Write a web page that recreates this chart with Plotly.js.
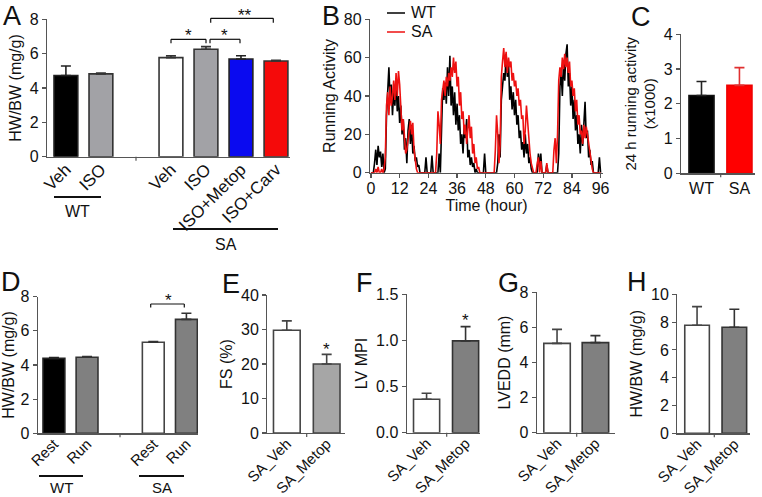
<!DOCTYPE html>
<html><head><meta charset="utf-8">
<script src="https://cdn.plot.ly/plotly-3.0.1.min.js"></script>
<style>html,body{margin:0;padding:0;background:#fff}#chart{width:762px;height:497px}</style>
</head><body><div id="chart"></div>
<script>
// ---------- DATA ----------
// Panel A
const aLabels = ['Veh','ISO','Veh','ISO','ISO+Metop','ISO+Carv'];
const aMeans  = [4.73, 4.82, 5.77, 6.26, 5.69, 5.57];
const aSEM    = [0.55, 0.05, 0.11, 0.15, 0.19, 0.05];
// Panel B (running activity, 0.5 h bins from 0 to 96 h)
const bWT = [
 0,0,0,5,12,4,14,8,11,3,10,0,2,30,44,55,38,46,30,42,35,48,32,40,
 26,35,20,28,12,18,5,22,28,15,25,10,14,6,8,3,4,0,0,0,0,0,8,0,
 0,0,0,9,0,0,0,0,0,10,0,22,44,38,47,36,55,40,61,35,45,30,42,25,
 36,22,30,15,20,10,25,18,28,8,12,4,8,3,5,0,2,0,0,0,0,0,0,10,
 0,0,0,0,0,0,0,0,0,0,5,20,8,38,45,52,48,62,50,58,38,45,33,42,
 30,38,25,30,18,22,12,16,8,20,10,15,5,8,2,0,0,0,0,0,10,3,10,0,
 0,0,0,4,0,0,0,0,0,0,0,0,0,10,45,52,40,58,48,62,67,45,52,35,
 45,28,38,22,30,15,20,10,25,14,30,37,18,22,8,12,4,6,0,0,0,0,0,8,
 0];
const bSA = [
 0,0,0,0,2,0,3,0,0,2,0,2,8,35,42,30,45,35,40,48,38,52,40,53,
 46,30,22,28,15,10,12,18,22,27,20,26,12,5,2,0,0,0,0,0,0,0,0,0,
 0,0,0,0,0,0,0,10,32,25,15,38,44,48,40,50,45,52,48,55,50,60,52,58,
 45,50,35,42,28,32,20,25,15,22,30,18,24,10,15,5,8,2,3,0,0,0,0,0,
 0,0,0,0,0,0,0,0,12,30,20,5,15,50,58,65,55,63,52,60,55,58,48,52,
 45,48,40,44,35,38,28,30,15,22,35,25,18,10,5,2,0,0,0,5,8,0,6,0,
 0,0,0,5,0,0,0,0,0,12,18,5,20,48,55,50,60,54,62,55,60,52,58,45,
 48,40,44,32,38,25,30,20,22,15,25,18,24,20,15,10,5,2,0,0,0,0,0,0,
 0];
const bTicks = [0,12,24,36,48,60,72,84,96];
// Panel C
const cLabels = ['WT','SA'];
const cMeans  = [2.24, 2.53];
const cSEM    = [0.40, 0.51];
// Panel D
const dLabels = ['Rest','Run','Rest','Run'];
const dMeans  = [4.39, 4.45, 5.33, 6.67];
const dSEM    = [0.04, 0.05, 0.05, 0.36];
// Panels E-H
const ehLabels = ['SA_Veh','SA_Metop'];
const eMeans = [29.8, 20.0];  const eSEM = [2.7, 2.8];
const fMeans = [0.362, 0.995]; const fSEM = [0.065, 0.155];
const gMeans = [5.09, 5.13];  const gSEM = [0.80, 0.40];
const hMeans = [7.77, 7.63];  const hSEM = [1.34, 1.29];

// ---------- LAYOUT HELPERS ----------
const W = 762, H = 497;
const FONT = 'Liberation Sans, Arial, Helvetica, sans-serif';
const px = x => x / W, py = y => 1 - y / H;
const AX = '#555';
const TICKF = {family: FONT, size: 16, color: '#111'};
const TITLEF = {family: FONT, size: 16, color: '#111'};

const traces = [];
function bars(xa, ya, slots, means, sem, fills, lines, errCols, width) {
  means.forEach((m, i) => {
    traces.push({
      type: 'bar', x: [slots[i]], y: [m], width: width, xaxis: xa, yaxis: ya,
      marker: {color: fills[i], line: {color: lines[i], width: 1.6}},
      error_y: {type: 'data', array: [sem[i]], arrayminus: [0], symmetric: false,
                color: errCols[i], thickness: 1.6, width: 5},
      showlegend: false, hoverinfo: 'skip'
    });
  });
}

function yAxis(dom, range, dtick, title, anchor, fmt) {
  return {domain: [py(dom[0]), py(dom[1])], range: range, dtick: dtick, anchor: anchor,
    showline: true, linecolor: AX, linewidth: 1.2, ticks: 'outside', ticklen: 4, tickcolor: AX,
    tickwidth: 1.2, showgrid: false, zeroline: false, tickfont: TICKF, tickformat: fmt || '',
    title: {text: title, font: TITLEF, standoff: 4}, fixedrange: true};
}
function xAxis(dom, range, vals, text, anchor, fsize) {
  return {domain: [px(dom[0]), px(dom[1])], range: range, anchor: anchor,
    showline: true, linecolor: AX, linewidth: 1.2, ticks: '', showgrid: false, zeroline: false,
    tickvals: vals, ticktext: text, tickangle: -45, ticklabelstandoff: -5,
    tickfont: {family: FONT, size: fsize || 15, color: '#111'}, fixedrange: true};
}

// Panel A
const aSlots = aLabels.map((_, i) => i < 2 ? i : i + 1);
bars('x', 'y', aSlots, aMeans, aSEM,
  ['#000000', '#a2a2a6', '#ffffff', '#a2a2a6', '#0a0af0', '#f50a0a'],
  ['#222', '#333', '#333', '#333', '#222', '#333'],
  ['#222', '#333', '#333', '#333', '#222', '#333'], 0.68);
// Panel B
traces.push({type: 'scatter', mode: 'lines', x0: 0, dx: 0.5, y: bWT, xaxis: 'x2', yaxis: 'y2',
  line: {color: '#000', width: 1.6}, showlegend: false, hoverinfo: 'skip'});
traces.push({type: 'scatter', mode: 'lines', x0: 0, dx: 0.5, y: bSA, xaxis: 'x2', yaxis: 'y2',
  line: {color: '#ee1111', width: 1.6}, showlegend: false, hoverinfo: 'skip'});
// Panel C
bars('x3', 'y3', [0, 1], cMeans, cSEM, ['#000', '#ff0000'], ['#111', '#ee0000'], ['#222', '#e03030'], 0.66);
// Panel D
bars('x4', 'y4', [0, 1, 3, 4], dMeans, dSEM, ['#000', '#808080', '#fff', '#808080'],
  ['#222', '#333', '#444', '#333'], ['#222', '#333', '#333', '#333'], 0.66);
// Panels E-H
bars('x5', 'y5', [0, 1], eMeans, eSEM, ['#fff', '#a6a6a6'], ['#444', '#444'], ['#444', '#444'], 0.67);
bars('x6', 'y6', [0, 1], fMeans, fSEM, ['#fff', '#808080'], ['#444', '#333'], ['#444', '#333'], 0.67);
bars('x7', 'y7', [0, 1], gMeans, gSEM, ['#fff', '#808080'], ['#444', '#333'], ['#444', '#333'], 0.69);
bars('x8', 'y8', [0, 1], hMeans, hSEM, ['#fff', '#808080'], ['#444', '#333'], ['#444', '#333'], 0.66);

const layout = {
  width: W, height: H, margin: {l: 0, r: 0, t: 0, b: 0},
  paper_bgcolor: '#fff', plot_bgcolor: 'rgba(0,0,0,0)', barmode: 'overlay',
  font: {family: FONT, color: '#111'},
  xaxis:  xAxis([47, 290], [-0.54, 6.4], aSlots, aLabels, 'y', 17),
  yaxis:  yAxis([156.7, 19.3], [0, 8], 2, 'HW/BW (mg/g)', 'x'),
  xaxis2: {domain: [px(370), px(603)], range: [-0.4, 97], anchor: 'y2', showline: true, linecolor: AX,
    linewidth: 1.2, ticks: 'outside', ticklen: 4, tickcolor: AX, tickwidth: 1.2, showgrid: false,
    zeroline: false, tickvals: bTicks, tickfont: TICKF, fixedrange: true, ticklabelstandoff: -3,
    title: {text: 'Time (hour)', font: TITLEF, standoff: 2}},
  yaxis2: yAxis([172.7, 19.3], [0, 80], 20, 'Running Activity', 'x2'),
  xaxis3: Object.assign(xAxis([681, 755], [-0.54, 1.41], [0, 1], cLabels, 'y3', 16), {tickangle: 0, ticklabelstandoff: 0}),
  yaxis3: Object.assign(yAxis([173.3, 34.3], [0, 4], 1, '24 h running activity<br>(x1000)', 'x3'),
    {title: {text: '24 h running activity<br>(x1000)', font: {family: FONT, size: 15, color: '#111'}, standoff: 4}}),
  xaxis4: xAxis([37.7, 198], [-0.49, 4.35], [0, 1, 3, 4], dLabels, 'y4'),
  yaxis4: yAxis([433.3, 296.7], [0, 8], 2, 'HW/BW (mg/g)', 'x4'),
  xaxis5: xAxis([267.3, 345], [-0.49, 1.46], [0, 1], ehLabels, 'y5'),
  yaxis5: yAxis([433, 295], [0, 40], 10, 'FS (%)', 'x5'),
  xaxis6: xAxis([406.7, 480], [-0.51, 1.37], [0, 1], ehLabels, 'y6'),
  yaxis6: yAxis([432.7, 294.3], [0, 1.5], 0.5, 'LV MPI', 'x6', '.1f'),
  xaxis7: xAxis([536.7, 615], [-0.53, 1.51], [0, 1], ehLabels, 'y7'),
  yaxis7: yAxis([432.7, 292.3], [0, 8], 2, 'LVEDD (mm)', 'x7'),
  xaxis8: xAxis([677.3, 750], [-0.53, 1.42], [0, 1], ehLabels, 'y8'),
  yaxis8: yAxis([433.3, 294.3], [0, 10], 2, 'HW/BW (mg/g)', 'x8'),
  shapes: [], annotations: []
};

const S = layout.shapes, A = layout.annotations;
function seg(x0, y0, x1, y1, color, w) {
  S.push({type: 'line', xref: 'paper', yref: 'paper', x0: px(x0), y0: py(y0), x1: px(x1), y1: py(y1),
    line: {color: color || '#111', width: w || 1.2}});
}
function bracket(x0, x1, yTop, yLeg) {
  seg(x0, yLeg, x0, yTop); seg(x0, yTop, x1, yTop); seg(x1, yTop, x1, yLeg);
}
function txt(x, y, t, size, anchor) {
  A.push({xref: 'paper', yref: 'paper', x: px(x), y: py(y), text: t, showarrow: false,
    xanchor: anchor || 'center', yanchor: 'middle', font: {family: FONT, size: size, color: '#111'}});
}
// separator ticks on bar axes
[[136, 156.7], [120, 433.3], [720.7, 173.3], [306.7, 433], [446.7, 432.7], [576.7, 432.7], [714.3, 433.3]]
  .forEach(([x, y]) => seg(x, y, x, y + 4, AX, 1.2));
// group lines
seg(54, 197, 101, 197, '#111', 2); txt(77.5, 211, 'WT', 16);
seg(173, 229, 278, 229, '#111', 2); txt(225.5, 244, 'SA', 16);
seg(39, 476, 83, 476, '#111', 2); txt(61, 487.5, 'WT', 15);
seg(139, 476, 184, 476, '#111', 2); txt(161.5, 487.5, 'SA', 15);
// significance
bracket(171, 206, 39.3, 43.3); txt(188.5, 35, '*', 17);
bracket(210, 240, 39.3, 43.3); txt(225, 35, '*', 17);
bracket(210.7, 273.3, 18.3, 22.7); txt(245, 15.5, '**', 17);
bracket(150.7, 184.3, 304, 307.5); txt(168, 300.5, '*', 17);
txt(326.7, 349, '*', 17);
txt(465.7, 320.5, '*', 17);
// legend in B
seg(387, 13, 405, 13, '#000', 1.5); txt(409, 13, 'WT', 16, 'left');
seg(387, 32, 405, 32, '#ee1111', 1.5); txt(409, 32, 'SA', 16, 'left');
// panel letters
[['A', 12, 16], ['B', 331, 16], ['C', 641, 17], ['D', 11, 282], ['E', 231, 284],
 ['F', 364, 283], ['G', 508, 283], ['H', 637, 282]].forEach(([t, x, y]) => txt(x, y, t, 27));

Plotly.newPlot('chart', traces, layout, {staticPlot: true, displayModeBar: false});
</script>
</body></html>
